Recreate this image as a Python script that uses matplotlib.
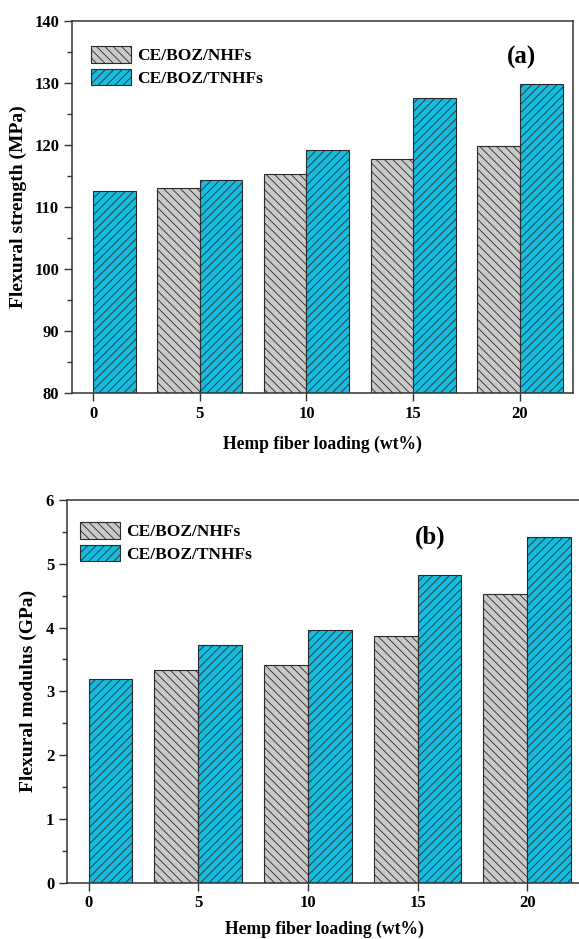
import matplotlib
matplotlib.use("Agg")
import matplotlib.pyplot as plt
import numpy as np
from matplotlib.ticker import MultipleLocator

loading = [0, 5, 10, 15, 20]
nhf_loading = [5, 10, 15, 20]
strength_nhf = [113.1, 115.3, 117.8, 119.8]
strength_tnhf = [112.6, 114.4, 119.2, 127.6, 129.8]
modulus_nhf = [3.34, 3.41, 3.86, 4.53]
modulus_tnhf = [3.19, 3.72, 3.96, 4.82, 5.42]
labels = ["CE/BOZ/NHFs", "CE/BOZ/TNHFs"]

plt.rcParams['font.family'] = ['Liberation Serif', 'DejaVu Serif']
plt.rcParams['font.weight'] = 'bold'
plt.rcParams['hatch.linewidth'] = 0.6

W, H = 579, 939
fig = plt.figure(figsize=(W / 100, H / 100), dpi=100)

gray = '#C9C9C9'
blue = '#14BCE0'
edge = '#2a2a2a'
bw = 2.0


def frac(l, t, r, b):
    return [l / W, 1 - b / H, (r - l) / W, (b - t) / H]


def panel(ax, nvals, tvals, ylim, major, minor, ylabel, ylab_x, tag, tagpos, legpos):
    b1 = ax.bar(nhf_loading, nvals, width=-bw, align='edge',
                color=gray, edgecolor=edge, linewidth=0.8, hatch='\\\\\\\\',
                label=labels[0])
    b2 = ax.bar(loading, tvals, width=bw, align='edge',
                color=blue, edgecolor=edge, linewidth=0.8, hatch='////',
                label=labels[1])
    ax.set_ylim(*ylim)
    ax.set_xticks(loading)
    ax.yaxis.set_major_locator(MultipleLocator(major))
    ax.yaxis.set_minor_locator(MultipleLocator(minor))
    ax.tick_params(axis='both', which='major', direction='out', length=6,
                   width=1.0, labelsize=12, color='#333333', pad=3)
    ax.tick_params(axis='y', which='minor', direction='out', length=3.5,
                   width=1.0, color='#333333')
    for s in ax.spines.values():
        s.set_linewidth(1.1)
        s.set_color('#333333')
    for lab in ax.get_xticklabels() + ax.get_yticklabels():
        lab.set_fontweight('bold')
    ax.set_xlabel("Hemp fiber loading (wt%)", fontsize=12.7, fontweight='bold',
                  labelpad=10)
    ax.set_ylabel(ylabel, fontsize=14, fontweight='bold')
    ax.yaxis.set_label_coords(ylab_x, 0.5)
    ax.text(tagpos[0], tagpos[1], tag, transform=ax.transAxes, fontsize=18,
            fontweight='bold', ha='center', va='center')
    ax.legend(handles=[b1, b2], loc='upper left', bbox_to_anchor=legpos,
              frameon=False, fontsize=12.5, handlelength=2.3,
              handleheight=1.1, handletextpad=0.35, labelspacing=0.25,
              borderaxespad=0, borderpad=0)


ax1 = fig.add_axes(frac(71.7, 20.7, 573.3, 393.3))
ax1.set_xlim(-1, 22.5)
panel(ax1, strength_nhf, strength_tnhf, (80, 140), 10, 5,
      "Flexural strength (MPa)", (27 - 71.7) / 501.6,
      "(a)", ((521.7 - 71.7) / 501.6, 1 - (57 - 20.7) / 372.6),
      ((91 - 71.7) / 501.6, 1 - (46 - 20.7) / 372.6))

ax2 = fig.add_axes(frac(66.7, 500, 582, 882.7))
ax2.set_xlim(-1, 22.5)
panel(ax2, modulus_nhf, modulus_tnhf, (0, 6), 1, 0.5,
      "Flexural modulus (GPa)", (37 - 66.7) / 515.3,
      "(b)", ((430 - 66.7) / 515.3, 1 - (537 - 500) / 382.7),
      ((80 - 66.7) / 515.3, 1 - (522 - 500) / 382.7))
ax2.xaxis.labelpad = 7

fig.savefig("out.png", dpi=100)
